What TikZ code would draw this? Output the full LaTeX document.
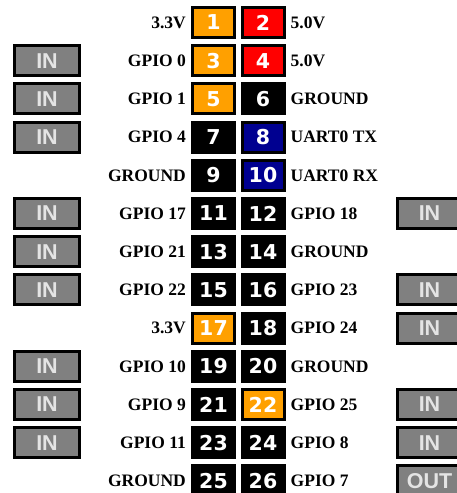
\documentclass[tikz,border=0pt]{standalone}
\usepackage{fontspec}
\setmainfont{Liberation Serif}
\newfontfamily\pinfont{DejaVu Sans}
\newfontfamily\iofont{Liberation Sans}
\definecolor{pinorange}{HTML}{FFA000}
\definecolor{pinred}{HTML}{FF0000}
\definecolor{pinblue}{HTML}{000090}
\definecolor{iogray}{HTML}{808080}
\definecolor{iotext}{HTML}{E4E4E4}
\tikzset{
  pinbox/.style={draw=black, line width=3pt, minimum width=42pt, minimum height=30pt,
    inner sep=0pt, text=white, font=\pinfont\bfseries\fontsize{20.5}{21}\selectfont},
  iobox/.style={draw=black, line width=3pt, fill=iogray, minimum width=65pt, minimum height=30pt,
    inner sep=0pt, text=iotext, font=\iofont\bfseries\fontsize{21.5}{22}\selectfont},
  lbl/.style={inner sep=0pt, font=\bfseries\fontsize{17.5}{18}\selectfont},
}
\begin{document}
\begin{tikzpicture}[x=1pt,y=-1pt]
\useasboundingbox (0,0) rectangle (457,493);
% rows: number, left colour, left label, right colour, right label
\foreach \r/\lc/\ll/\rc/\rl in {
 1/pinorange/3.3V/pinred/5.0V,
 2/pinorange/GPIO 0/pinred/5.0V,
 3/pinorange/GPIO 1/black/GROUND,
 4/black/GPIO 4/pinblue/UART0 TX,
 5/black/GROUND/pinblue/UART0 RX,
 6/black/GPIO 17/black/GPIO 18,
 7/black/GPIO 21/black/GROUND,
 8/black/GPIO 22/black/GPIO 23,
 9/pinorange/3.3V/black/GPIO 24,
 10/black/GPIO 10/black/GROUND,
 11/black/GPIO 9/pinorange/GPIO 25,
 12/black/GPIO 11/black/GPIO 8,
 13/black/GROUND/black/GPIO 7}{
  \pgfmathsetmacro{\yy}{22.5+38.2*(\r-1)}
  \pgfmathtruncatemacro{\nl}{2*\r-1}
  \pgfmathtruncatemacro{\nr}{2*\r}
  \node[pinbox, fill=\lc] (p\nl) at (213.5,\yy) {\nl};
  \node[pinbox, fill=\rc] (p\nr) at (263,\yy) {\nr};
  \node[lbl, anchor=east] (l\nl) at (186,\yy) {\ll};
  \node[lbl, anchor=west] (l\nr) at (290.5,\yy) {\rl};
}
% left IN boxes
\foreach \r in {2,3,4,6,7,8,10,11,12}{
  \pgfmathsetmacro{\yy}{22.5+38.2*(\r-1)}
  \node[iobox] (inL\r) at (47,\yy) {IN};
}
% right IN boxes
\foreach \r in {6,8,9,11,12}{
  \pgfmathsetmacro{\yy}{22.5+38.2*(\r-1)}
  \node[iobox] (inR\r) at (429.5,\yy) {IN};
}
\node[iobox] (outR13) at (429.5,{22.5+38.2*12}) {OUT};
\end{tikzpicture}
\end{document}
